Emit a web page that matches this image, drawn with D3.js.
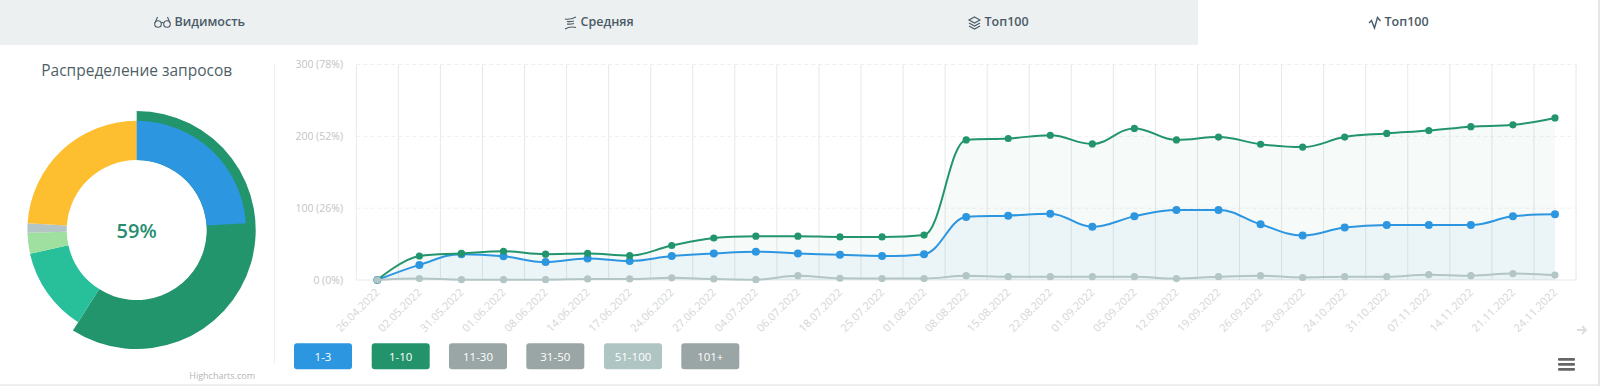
<!DOCTYPE html>
<html><head><meta charset="utf-8">
<script src="https://cdn.jsdelivr.net/npm/d3@7/dist/d3.min.js"></script>
<style>html,body{margin:0;padding:0;background:#fff;overflow:hidden}svg{display:block;font-family:"Open Sans",sans-serif}</style>
</head><body><div id="c"></div>
<script>
const dates=["26.04.2022","02.05.2022","31.05.2022","01.06.2022","08.06.2022","14.06.2022","17.06.2022","24.06.2022","27.06.2022","04.07.2022","06.07.2022","18.07.2022","25.07.2022","01.08.2022","08.08.2022","15.08.2022","22.08.2022","01.09.2022","05.09.2022","12.09.2022","19.09.2022","26.09.2022","29.09.2022","24.10.2022","31.10.2022","07.11.2022","14.11.2022","21.11.2022","24.11.2022"];
const top3=[0,21,36,33,25,30,26.5,33.4,37,39.5,37,35,33.4,36,87.7,89.6,92.4,74,88.6,97.5,97.5,77.5,62,73,76.6,76.6,76.6,88.6,91.5];
const top10=[0,33.4,37,40,36,37,34,48,58.5,61,61,60,60,62.6,195,197,201.5,189.4,211,195,199,189,185,199,204,208,213.5,216,225.6];
const top100=[0,2,0.5,0.5,0.5,1.5,1.5,3,1.5,0.5,6,2.3,2,2,6,4.6,4.6,4.6,4.6,2,4.6,6,3.5,4.6,4.6,7.4,6,9,6.9];
const yTicks=[0,100,200,300];
const yTickLabels=["0 (0%)","100 (26%)","200 (52%)","300 (78%)"];
const pieShares=[59,12.5,3.1,1.4,24];
const pieColors=["#23956c","#28bf9b","#9fdf9f","#b3c5c5","#fdbe2f"];
const blueShare=24;
const legendNames=["1-3","1-10","11-30","31-50","51-100","101+"];
const legendColors=["#2d96e0","#23936c","#9aa5a5","#9aa5a5","#afc5c3","#9aa5a5"];
const tabNames=["Видимость","Средняя","Топ100","Топ100"];

const svg=d3.select("#c").append("svg").attr("width",1600).attr("height",386);
// page chrome
svg.append("rect").attr("x",0).attr("y",0).attr("width",1198).attr("height",45).attr("fill","#ecf0f1");
svg.append("rect").attr("x",0).attr("y",384).attr("width",1600).attr("height",2).attr("fill","#eceeef");
svg.append("rect").attr("x",1598).attr("y",0).attr("width",2).attr("height",386).attr("fill","#e4e7e8");
// tabs
const tabX=[174.5,580.5,984.5,1384.5];
tabNames.forEach((t,i)=>svg.append("text").attr("x",tabX[i]).attr("y",26).attr("font-size",12.5).attr("font-weight",600).attr("fill","#4a5a66").text(t));
const ic=svg.append("g").attr("fill","none").attr("stroke","#4a5a66").attr("stroke-width",1.1);
// glasses
ic.append("g").attr("transform","translate(154,16)").call(g=>{g.append("circle").attr("cx",4).attr("cy",8).attr("r",3.3);g.append("circle").attr("cx",13).attr("cy",8).attr("r",3.3);g.append("path").attr("d","M7 7q1.500-1 3 0M1 7L3.500 1M16 7L13.500 1");});
// waves
ic.append("g").attr("transform","translate(564,16)").call(g=>{g.append("path").attr("d","M1 3q5 1 11-2M3 5.500q3 .5 7-.5M3 8q3 .5 7-.5M1 13q5-3 11-1.500");});
// layers
ic.append("g").attr("transform","translate(968,16)").call(g=>{g.append("path").attr("d","M6.500 1L12 4L6.500 7L1 4ZM1 7L6.500 10L12 7M1 10L6.500 13L12 10");});
// pulse
ic.append("g").attr("transform","translate(1368,16)").attr("stroke-width",1.4).call(g=>{g.append("path").attr("d","M1 7L3.500 4.500L6.500 12L9.500 1.500L12.500 5");});

// donut
const cx=136.7,cy=230;
svg.append("text").attr("x",cx).attr("y",76).attr("text-anchor","middle").attr("font-size",15.5).attr("fill","#4f5f66").text("Распределение запросов");
const donut=svg.append("g").attr("transform",`translate(${cx},${cy})`);
const pie=d3.pie().sort(null)(pieShares);
pie.forEach((s,i)=>donut.append("path").attr("d",d3.arc().innerRadius(70).outerRadius(i==0?119:109.3)(s)).attr("fill",pieColors[i]));
donut.append("path").attr("d",d3.arc().innerRadius(70).outerRadius(109.3)({startAngle:0,endAngle:blueShare/100*2*Math.PI})).attr("fill","#2d96e0");
donut.append("text").attr("y",7.500).attr("text-anchor","middle").attr("font-size",20).attr("fill","#268d6f").attr("font-weight",600).text("59%");
svg.append("text").attr("x",255).attr("y",379).attr("text-anchor","end").attr("font-size",9).attr("fill","#b5b5b5").text("Highcharts.com");
svg.append("line").attr("x1",274.500).attr("x2",274.500).attr("y1",64).attr("y2",363).attr("stroke","#eeeeee");

// line chart
const x=d3.scaleBand().domain(dates).range([356.3,1576]);
const xc=d=>x(d)+x.bandwidth()/2;
const y=d3.scaleLinear().domain([0,300]).range([280,64.5]);
const plot=svg.append("g");
yTicks.forEach(v=>plot.append("line").attr("x1",356.3).attr("x2",1577).attr("y1",y(v)).attr("y2",y(v)).attr("stroke",v?"#efefef":"#e8eaea").attr("stroke-dasharray",v?"4 3":null));
dates.concat([null]).forEach((d,i)=>{const px=d?x(d):1576;plot.append("line").attr("x1",px).attr("x2",px).attr("y1",64.5).attr("y2",280).attr("stroke","#e6e9ea");});
// Highcharts-style spline
function spline(pts){
  const cont=pts.map((p,i)=>{
    if(i==0||i==pts.length-1)return{lx:p[0],ly:p[1],rx:p[0],ry:p[1]};
    const a=pts[i-1],b=pts[i+1],[px,py]=p;
    let lx=(1.5*px+a[0])/2.5,ly=(1.5*py+a[1])/2.5,rx=(1.5*px+b[0])/2.5,ry=(1.5*py+b[1])/2.5;
    const c=(ry-ly)*(rx-px)/(rx-lx)+py-ry;ly+=c;ry+=c;
    if(ly>a[1]&&ly>py){ly=Math.max(a[1],py);ry=2*py-ly;}else if(ly<a[1]&&ly<py){ly=Math.min(a[1],py);ry=2*py-ly;}
    if(ry>b[1]&&ry>py){ry=Math.max(b[1],py);ly=2*py-ry;}else if(ry<b[1]&&ry<py){ry=Math.min(b[1],py);ly=2*py-ry;}
    return{lx,ly,rx,ry};
  });
  const path=d3.path();path.moveTo(pts[0][0],pts[0][1]);
  for(let i=1;i<pts.length;i++)path.bezierCurveTo(cont[i-1].rx,cont[i-1].ry,cont[i].lx,cont[i].ly,pts[i][0],pts[i][1]);
  return path.toString();
}
const series=[
 {v:top10,c:"#23956c",fill:"rgba(35,149,108,0.045)",w:2,r:3.6},
 {v:top3,c:"#2d96e0",fill:"rgba(45,150,224,0.05)",w:2,r:4},
 {v:top100,c:"#b3c5c5",fill:"rgba(179,197,197,0.03)",w:2,r:3.6}];
const first=dates[0],last=dates[dates.length-1];
series.forEach(s=>{
  const pts=dates.map((d,i)=>[xc(d),y(s.v[i])]);
  s.pts=pts;
  plot.append("path").attr("d",spline(pts)+`L${xc(last)},${y(0)}L${xc(first)},${y(0)}Z`).attr("fill",s.fill);
});
[series[1],series[0],series[2]].forEach(s=>{
  plot.append("path").attr("d",spline(s.pts)).attr("fill","none").attr("stroke",s.c).attr("stroke-width",s.w);
  plot.selectAll(null).data(s.pts).enter().append("circle").attr("cx",p=>p[0]).attr("cy",p=>p[1]).attr("r",s.r).attr("fill",s.c);
});
// axes
const yAxis=d3.axisLeft(y).tickValues(yTicks).tickSize(0).tickPadding(0).tickFormat((d,i)=>yTickLabels[i]);
svg.append("g").attr("transform","translate(343,0)").call(yAxis).call(g=>{g.select(".domain").remove();g.selectAll("text").attr("font-size",10.5).attr("font-family","'Open Sans',sans-serif").attr("fill","#c4c4c4");});
const xAxis=d3.axisBottom(x).tickSize(0).tickPadding(0);
svg.append("g").attr("transform","translate(0,280)").call(xAxis).call(g=>{g.select(".domain").remove();g.selectAll("text").attr("font-size",11).attr("font-family","'Open Sans',sans-serif").attr("fill","#d4d6d6").attr("text-anchor","end").attr("y",0).attr("dy",0).attr("transform","translate(3,13) rotate(-45)");});
// legend
const legX=[294,371.7,449,526.3,604,681.3];
legendNames.forEach((n,i)=>{
  const g=svg.append("g").attr("transform",`translate(${legX[i]},343.3)`);
  g.append("rect").attr("width",58).attr("height",26).attr("rx",3).attr("fill",legendColors[i]);
  g.append("text").attr("x",29).attr("y",17.500).attr("text-anchor","middle").attr("font-size",11.5).attr("fill","#fff").text(n);
});
// arrow + menu
svg.append("path").attr("d","M1577 330h9M1582 326l4 4l-4 4").attr("fill","none").attr("stroke","#dddddd").attr("stroke-width",1.8);
[358,363,368].forEach(v=>svg.append("rect").attr("x",1558).attr("y",v).attr("width",17).attr("height",2.8).attr("rx",1).attr("fill","#666666"));
</script></body></html>
